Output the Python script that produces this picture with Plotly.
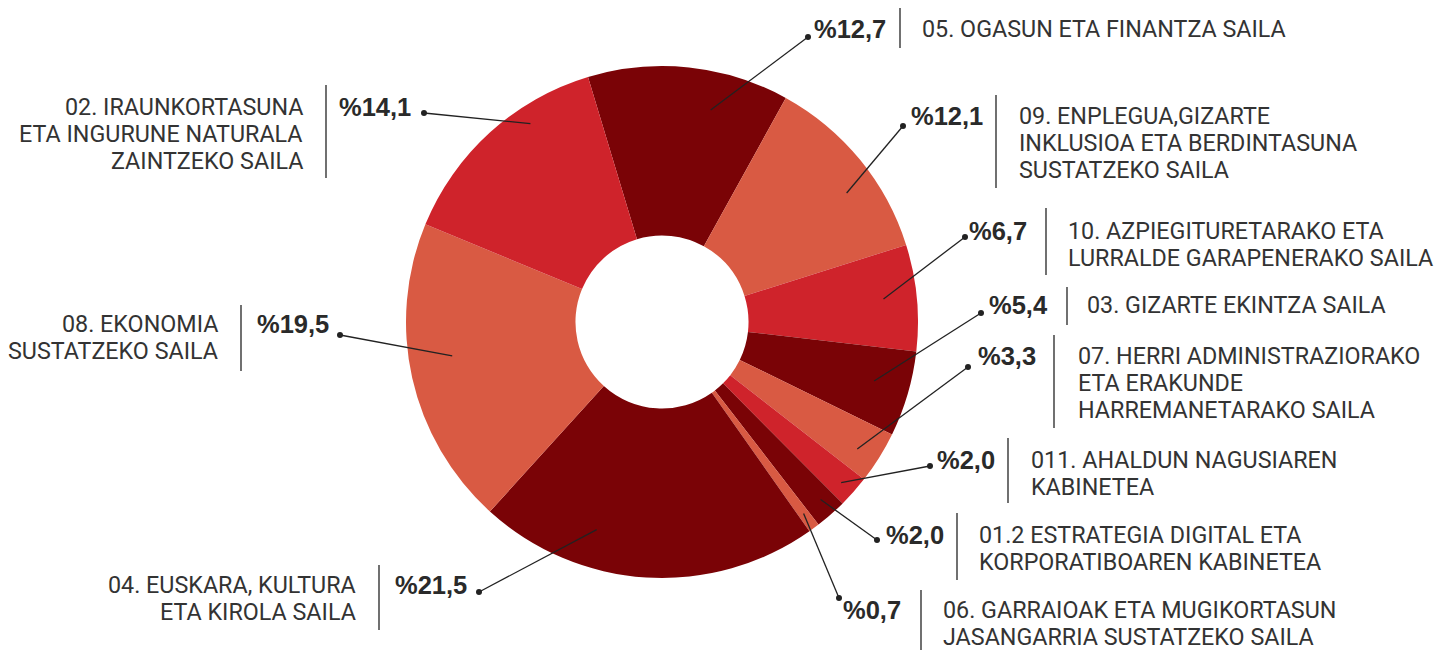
import math
import plotly.graph_objects as go

# ---------------- data ----------------
departments = [
    "05. OGASUN ETA FINANTZA SAILA",
    "09. ENPLEGUA,GIZARTE\nINKLUSIOA ETA BERDINTASUNA\nSUSTATZEKO SAILA",
    "10. AZPIEGITURETARAKO ETA\nLURRALDE GARAPENERAKO SAILA",
    "03. GIZARTE EKINTZA SAILA",
    "07. HERRI ADMINISTRAZIORAKO\nETA ERAKUNDE\nHARREMANETARAKO SAILA",
    "011. AHALDUN NAGUSIAREN\nKABINETEA",
    "01.2 ESTRATEGIA DIGITAL ETA\nKORPORATIBOAREN KABINETEA",
    "06. GARRAIOAK ETA MUGIKORTASUN\nJASANGARRIA SUSTATZEKO SAILA",
    "04. EUSKARA, KULTURA\nETA KIROLA SAILA",
    "08. EKONOMIA\nSUSTATZEKO SAILA",
    "02. IRAUNKORTASUNA\nETA INGURUNE NATURALA\nZAINTZEKO SAILA",
]
shares = [12.7, 12.1, 6.7, 5.4, 3.3, 2.0, 2.0, 0.7, 21.5, 19.5, 14.1]

# ---------------- style / layout ----------------
DARK, RED, ORANGE = "#7a0306", "#cf232b", "#d95a43"
slice_colors = [DARK, ORANGE, RED, DARK, ORANGE, RED, DARK, ORANGE, DARK, ORANGE, RED]

W, H = 1456, 650
OFF = 8                     # page offset of the figure inside the window
CX, CY, R = 662, 322, 256   # pie centre / radius in window pixels
HOLE = 0.338
ROTATION = -16.8

# leader start inside slice: fraction of slice angle, fraction of radius
lead_frac = [0.65, 0.60, 0.48, 0.46, 0.59, 0.55, 0.43, 0.47, 0.68, 0.55, 0.67]
lead_rad = [0.85, 0.88, 0.87, 0.86, 0.91, 0.94, 0.93, 0.93, 0.85, 0.83, 0.93]

# label block placement (window pixels)
label_side = ["R", "R", "R", "R", "R", "R", "R", "R", "L", "L", "L"]
dot_xy = [(808, 37), (903, 126), (965, 237), (981, 313), (968, 367), (930, 466),
          (877, 540), (839, 598), (479, 592), (340, 335), (424, 113)]
pct_x = [812, 909, 967, 987, 976, 935, 884, 841, 393, 255, 337]
row_y = [29, 116, 231, 305, 356, 460, 535, 610, 585, 324, 107]
vline_x = [900, 996, 1046, 1067, 1054, 1008, 957, 921, 379, 241, 326]
vline_y = [(8, 48), (95, 188), (208, 275), (287, 325), (335, 428), (438, 503),
           (513, 580), (590, 650), (565, 630), (305, 371), (85, 178)]
dept_x = [920, 1017, 1066, 1085, 1076, 1029, 977, 941, 358, 220, 305]
LINE_H = 26.8

DEPT_FONT = dict(family="Roboto, Liberation Sans, sans-serif", size=23.3, color="#333333")
PCT_FONT = dict(family="Liberation Sans, Arial, sans-serif", size=25.5, color="#2a2a2a")

fig = go.Figure()

fig.add_trace(go.Pie(
    values=shares,
    labels=[d.split("\n")[0] for d in departments],
    sort=False,
    direction="clockwise",
    rotation=ROTATION,
    hole=HOLE,
    marker=dict(colors=slice_colors, line=dict(width=0)),
    textinfo="none",
    hoverinfo="skip",
    showlegend=False,
    domain=dict(x=[(CX - OFF - R) / W, (CX - OFF + R) / W],
                y=[1 - (CY - OFF + R) / H, 1 - (CY - OFF - R) / H]),
))

# invisible trace to activate pixel-scaled axes
fig.add_trace(go.Scatter(x=[OFF, W + OFF], y=[OFF, H + OFF], mode="markers",
                         marker=dict(opacity=0), hoverinfo="skip", showlegend=False))

shapes = []
annotations = []
total = sum(shares)
cum = 0.0
for i, v in enumerate(shares):
    ang = math.radians(ROTATION + 360.0 * (cum + lead_frac[i] * v) / total)
    cum += v
    r = lead_rad[i] * R
    sx = CX + r * math.sin(ang)
    sy = CY - r * math.cos(ang)
    dx, dy = dot_xy[i]
    shapes.append(dict(type="line", xref="x", yref="y", x0=sx, y0=sy, x1=dx, y1=dy,
                       line=dict(color="#222222", width=1.3), layer="above"))
    shapes.append(dict(type="circle", xref="x", yref="y", x0=dx - 3, x1=dx + 3,
                       y0=dy - 3, y1=dy + 3, fillcolor="#222222",
                       line=dict(width=0), layer="above"))
    shapes.append(dict(type="line", xref="x", yref="y", x0=vline_x[i], x1=vline_x[i],
                       y0=vline_y[i][0], y1=vline_y[i][1],
                       line=dict(color="#4d4d4d", width=1.6), layer="above"))
    pct_text = "%" + f"{v:.1f}".replace(".", ",")
    annotations.append(dict(xref="x", yref="y", x=pct_x[i], y=row_y[i],
                            text="<b>" + pct_text + "</b>", showarrow=False,
                            xanchor="left", yanchor="middle", font=PCT_FONT))
    for j, line in enumerate(departments[i].split("\n")):
        annotations.append(dict(xref="x", yref="y", x=dept_x[i], y=row_y[i] + j * LINE_H,
                                text=line, showarrow=False,
                                xanchor="left" if label_side[i] == "R" else "right",
                                yanchor="middle", font=DEPT_FONT))

fig.update_layout(
    width=W, height=H,
    margin=dict(l=0, r=0, t=0, b=0),
    paper_bgcolor="white", plot_bgcolor="white",
    xaxis=dict(range=[OFF, W + OFF], visible=False, fixedrange=True),
    yaxis=dict(range=[H + OFF, OFF], visible=False, fixedrange=True),
    shapes=shapes,
    annotations=annotations,
    showlegend=False,
)

fig.write_html("out.html")
